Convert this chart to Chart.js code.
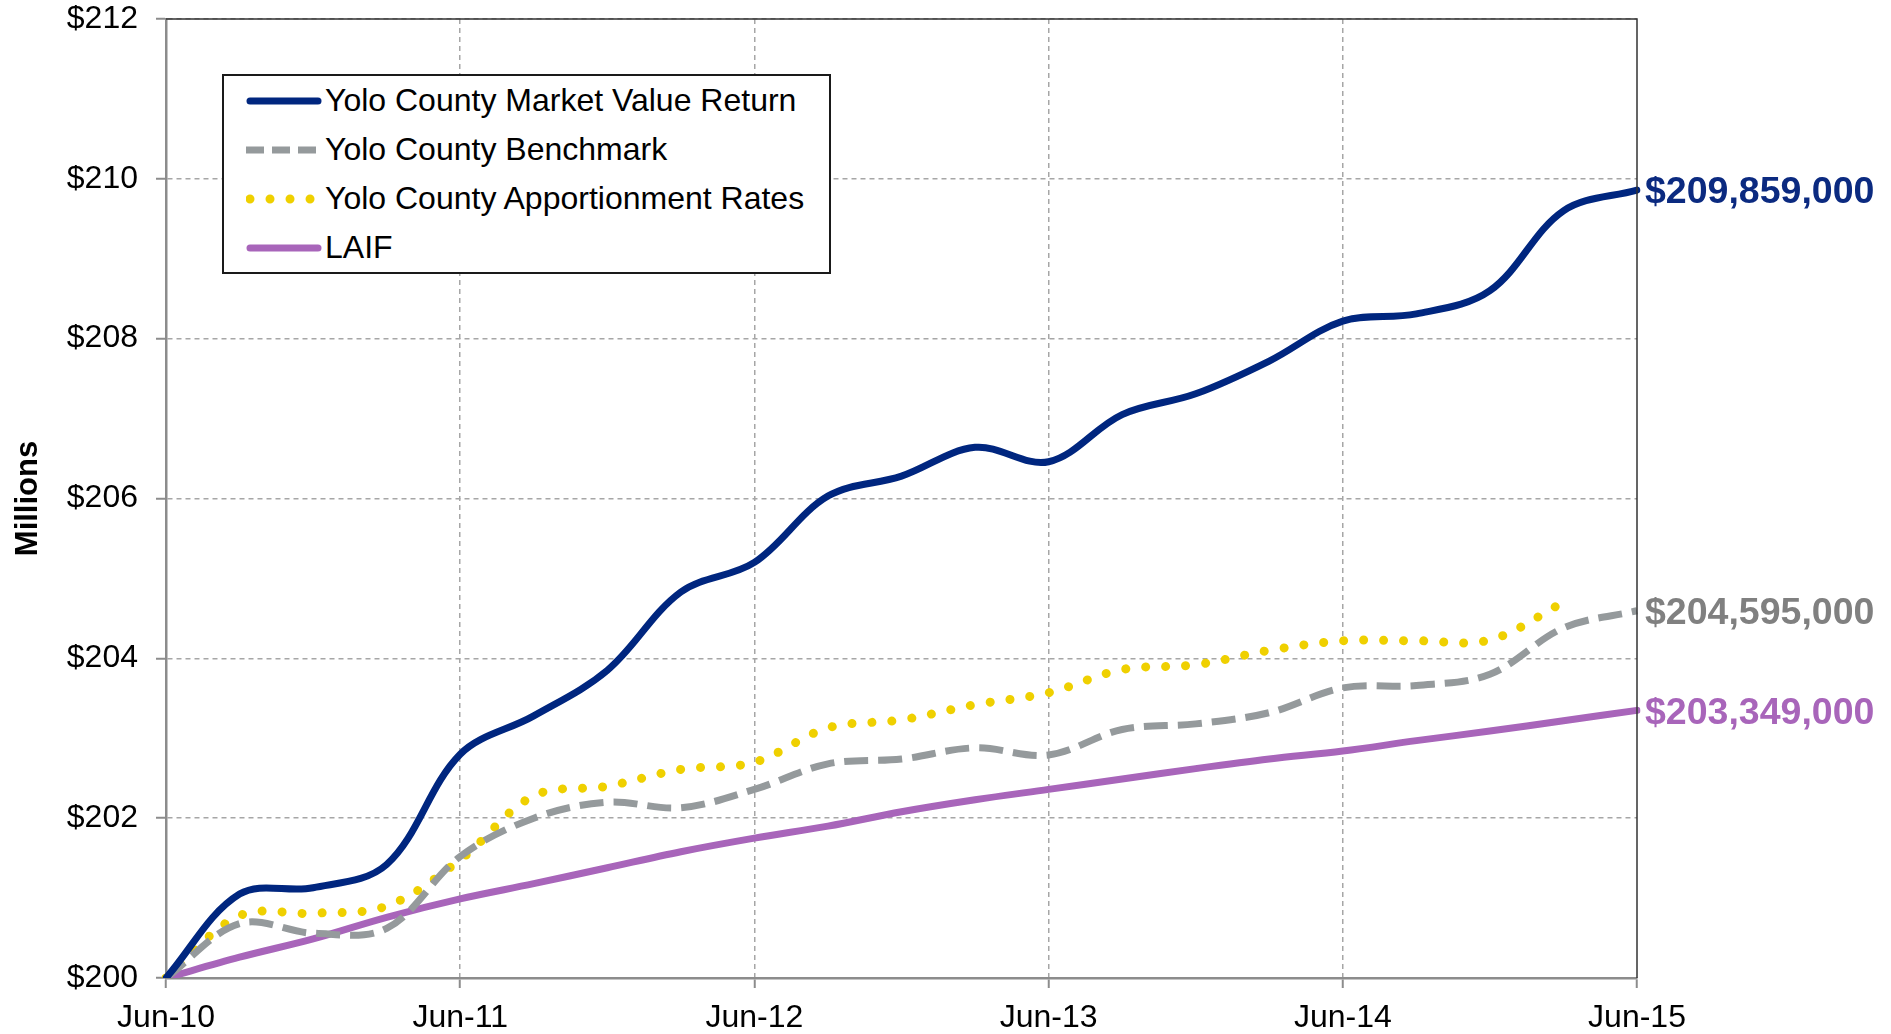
<!DOCTYPE html>
<html>
<head>
<meta charset="utf-8">
<title>Yolo County Market Value Return</title>
<script src="https://cdn.jsdelivr.net/npm/chart.js@4.4.1/dist/chart.umd.min.js"></script>
<style>
  body { margin: 0; background: #fff; font-family: "Liberation Sans", Arial, sans-serif; }
  #wrap { position: relative; width: 1891px; height: 1034px; }
  #legend {
    position: absolute; left: 222px; top: 74px; width: 605px; height: 196px;
    border: 2px solid #1a1a1a; background: #fff;
  }
  .item { height: 49px; display: flex; align-items: center; font-size: 32px; color: #000; white-space: nowrap; }
  .item svg { margin-left: 22px; margin-right: 3px; }
</style>
</head>
<body>
<div id="wrap">
  <canvas id="yoloChart" width="1891" height="1034"></canvas>
  <div id="legend"></div>
</div>
<script>
// quarter ends, Jun-10 .. Jun-15
const quarters = [
  "Jun-10", "Sep-10", "Dec-10", "Mar-11",
  "Jun-11", "Sep-11", "Dec-11", "Mar-12",
  "Jun-12", "Sep-12", "Dec-12", "Mar-13",
  "Jun-13", "Sep-13", "Dec-13", "Mar-14",
  "Jun-14", "Sep-14", "Dec-14", "Mar-15",
  "Jun-15"
];
const yTicks = [200, 202, 204, 206, 208, 210, 212];

const seriesNames = [
  "Yolo County Market Value Return",
  "Yolo County Benchmark",
  "Yolo County Apportionment Rates",
  "LAIF"
];

// values in $ millions
const marketValue = [200.00, 201.05, 201.13, 201.42, 202.80, 203.28, 203.85, 204.83, 205.20,
  206.03, 206.28, 206.64, 206.46, 207.05, 207.31, 207.72, 208.22, 208.31, 208.60, 209.60, 209.859];
const benchmark = [200.00, 200.68, 200.56, 200.62, 201.52, 202.00, 202.20, 202.13, 202.36,
  202.68, 202.74, 202.88, 202.79, 203.11, 203.18, 203.32, 203.63, 203.66, 203.80, 204.38, 204.595];
const apportionment = [200.00, 200.78, 200.81, 200.90, 201.48, 202.28, 202.40, 202.61, 202.70,
  203.13, 203.23, 203.42, 203.57, 203.86, 203.92, 204.10, 204.22, 204.22, 204.23, 204.70, null];
const laif = [200.00, 200.26, 200.49, 200.76, 200.99, 201.18, 201.38, 201.58, 201.75,
  201.90, 202.08, 202.23, 202.36, 202.49, 202.62, 202.74, 202.84, 202.97, 203.09, 203.22, 203.349];

const FONT = "'Liberation Sans', Arial, sans-serif";
const gridColor = "#a6a6a6";
const axisColor = "#8c8c8c";

const datasets = [
  { label: seriesNames[0], data: marketValue, borderColor: "#00267f", borderWidth: 7,
    borderDash: [], borderCapStyle: "round", endLabel: "#0b2a80" },
  { label: seriesNames[1], data: benchmark, borderColor: "#959a9c", borderWidth: 7,
    borderDash: [24, 10], borderCapStyle: "butt", endLabel: "#808080" },
  { label: seriesNames[2], data: apportionment, borderColor: "#efd000", borderWidth: 9,
    borderDash: [0.01, 20], borderCapStyle: "round" },
  { label: seriesNames[3], data: laif, borderColor: "#a865ba", borderWidth: 7,
    borderDash: [], borderCapStyle: "round", endLabel: "#a865ba" }
];

// top and right edges of the plot box
const frame = {
  id: "frame",
  afterDraw(chart) {
    const { ctx, chartArea: a } = chart;
    ctx.save();
    ctx.strokeStyle = "#333";
    ctx.lineWidth = 1.5;
    ctx.beginPath();
    ctx.moveTo(a.left, a.top);
    ctx.lineTo(a.right, a.top);
    ctx.lineTo(a.right, a.bottom);
    ctx.stroke();
    ctx.restore();
  }
};

// dollar labels at the end of three lines
const endLabels = {
  id: "endLabels",
  afterDatasetsDraw(chart) {
    const { ctx, chartArea } = chart;
    ctx.save();
    ctx.font = "bold 37.5px " + FONT;
    ctx.textAlign = "left";
    ctx.textBaseline = "middle";
    chart.data.datasets.forEach((ds, i) => {
      if (!ds.endLabel) return;
      let last = ds.data.length - 1;
      while (last > 0 && ds.data[last] == null) last--;
      const pt = chart.getDatasetMeta(i).data[last];
      const text = "$" + Math.round(ds.data[last] * 1000000).toLocaleString("en-US");
      ctx.fillStyle = ds.endLabel;
      ctx.fillText(text, chartArea.right + 8, pt.y + 3);
    });
    ctx.restore();
  }
};

const ctx = document.getElementById("yoloChart").getContext("2d");
new Chart(ctx, {
  type: "line",
  data: {
    labels: quarters,
    datasets: datasets.map((d) => ({
      label: d.label,
      data: d.data,
      borderColor: d.borderColor,
      backgroundColor: d.borderColor,
      borderWidth: d.borderWidth,
      borderDash: d.borderDash,
      borderCapStyle: d.borderCapStyle,
      borderJoinStyle: "round",
      endLabel: d.endLabel,
      pointRadius: 0,
      tension: 0.35,
      fill: false
    }))
  },
  options: {
    responsive: false,
    animation: false,
    layout: { padding: { left: 0, right: 254, top: 0, bottom: 0 } },
    plugins: {
      legend: { display: false },
      tooltip: { enabled: false }
    },
    scales: {
      x: {
        type: "category",
        offset: false,
        afterFit: (scale) => { scale.height = 56; },
        grid: {
          color: (c) => (c.index % 4 === 0 && c.index > 0 && c.index < 20 ? gridColor : "rgba(0,0,0,0)"),
          lineWidth: 1.5,
          tickColor: (c) => (c.index % 4 === 0 ? axisColor : "rgba(0,0,0,0)"),
          tickLength: 10,
          tickWidth: 2
        },
        border: { display: true, color: axisColor, width: 2.5, dash: [5, 4] },
        ticks: {
          autoSkip: false,
          maxRotation: 0,
          minRotation: 0,
          padding: 11,
          color: "#000",
          font: { family: FONT, size: 32 },
          callback: (v, i) => (i % 4 === 0 ? quarters[i] : "")
        }
      },
      y: {
        min: 200,
        max: 212,
        afterBuildTicks: (scale) => { scale.ticks = yTicks.map((v) => ({ value: v })); },
        afterFit: (scale) => {
          scale.width = 166;
          scale.paddingTop = 19;
          scale.paddingBottom = 19;
        },
        grid: {
          color: gridColor,
          lineWidth: 1.5,
          tickColor: axisColor,
          tickLength: 10,
          tickWidth: 2
        },
        border: { display: true, color: axisColor, width: 2.5, dash: [5, 4] },
        ticks: {
          padding: 18,
          color: "#000",
          font: { family: FONT, size: 32 },
          callback: (v) => "$" + v
        },
        title: {
          display: true,
          text: "Millions",
          color: "#000",
          font: { family: FONT, size: 31, weight: "bold" },
          padding: { top: 10, bottom: 0 }
        }
      }
    }
  },
  plugins: [frame, endLabels]
});

// legend box, built from the same series
const legend = document.getElementById("legend");
datasets.forEach((d) => {
  const row = document.createElement("div");
  row.className = "item";
  const dotted = d.borderDash[0] === 0.01;
  const dash = d.borderDash.length ? `stroke-dasharray="${dotted ? "0.01 20" : "18 8"}"` : "";
  const x1 = d.borderDash.length && !dotted ? 0 : 4;
  row.innerHTML =
    `<svg width="76" height="14"><line x1="${x1}" y1="7" x2="72" y2="7" stroke="${d.borderColor}" ` +
    `stroke-width="${d.borderWidth}" stroke-linecap="${d.borderCapStyle}" ${dash}/></svg>` +
    `<span>${d.label}</span>`;
  legend.appendChild(row);
});
</script>
</body>
</html>
